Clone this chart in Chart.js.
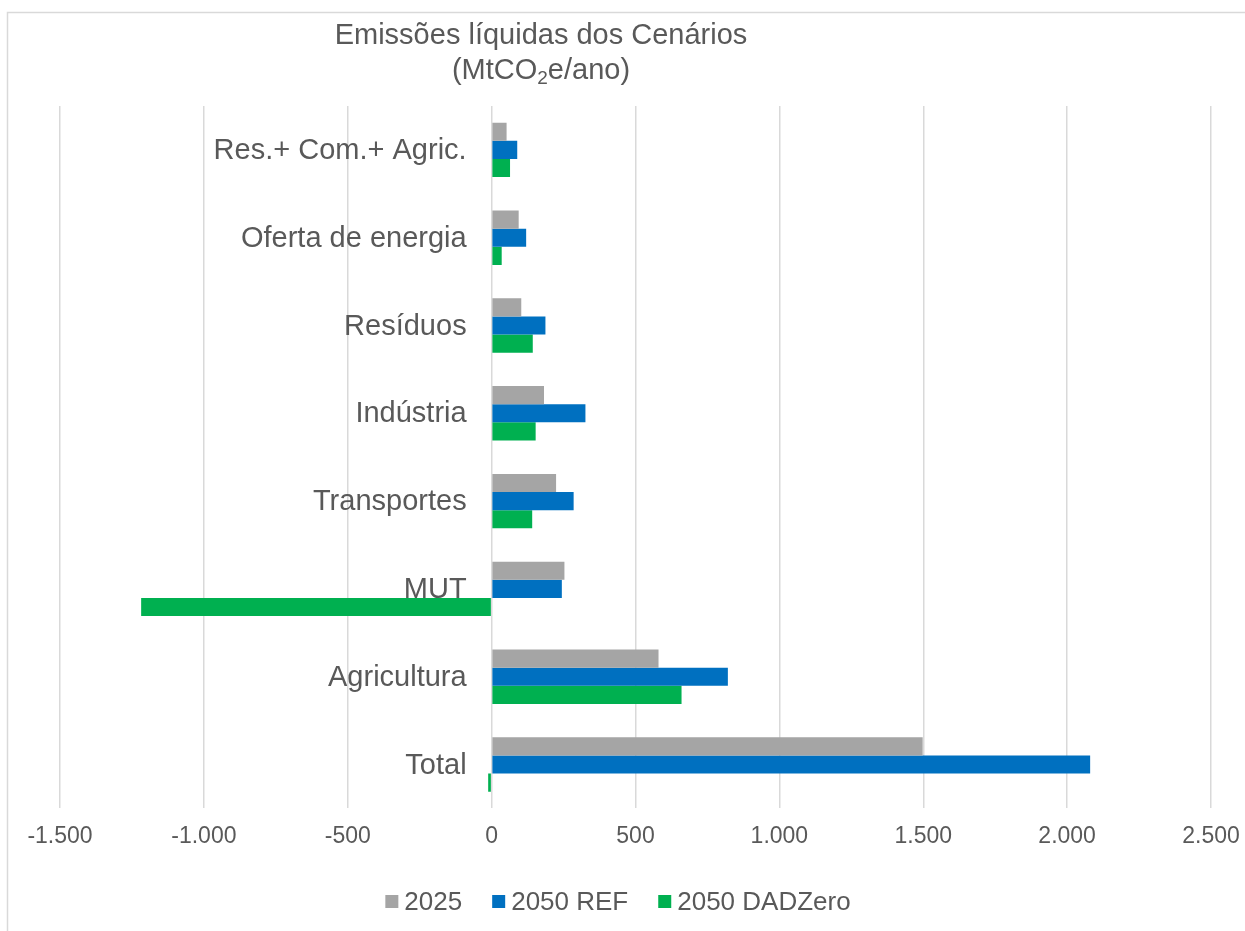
<!DOCTYPE html>
<html>
<head>
<meta charset="utf-8">
<title>Emissões líquidas dos Cenários</title>
<script src="https://cdn.jsdelivr.net/npm/chart.js@4.4.1/dist/chart.umd.min.js"></script>
<style>
    html, body { margin: 0; padding: 0; background: #fff; }
    #wrap { width: 1245px; height: 931px; }
</style>
</head>
<body>
<div id="wrap"><canvas id="emissoes"></canvas></div>
<script>
    // Dados (MtCO2e/ano)
    var categorias = ["Res.+ Com.+ Agric.", "Oferta de energia", "Resíduos", "Indústria", "Transportes", "MUT", "Agricultura", "Total"];
    var serie2025 = [52, 94, 103, 182, 224, 253, 580, 1498];
    var serieRef = [89, 120, 187, 326, 285, 244, 821, 2080];
    var serieDad = [64, 35, 143, 153, 141, -1218, 660, -12];
    var nomesSeries = ["2025", "2050 REF", "2050 DADZero"];
    var xMin = -1500, xMax = 2500, xPasso = 500;

    var cinzaTexto = "#595959";
    var fonte = "'Liberation Sans', Arial, sans-serif";

    function formataMilhar(v) {
        var s = Math.abs(v).toString().replace(/\B(?=(\d{3})+(?!\d))/g, ".");
        return (v < 0 ? "-" : "") + s;
    }

    // Moldura, título, rótulos das categorias junto ao zero e legenda
    var extras = {
        id: "extras",
        beforeDraw: function (chart) {
            var ctx = chart.ctx;
            ctx.save();
            ctx.fillStyle = "#fff";
            ctx.fillRect(0, 0, chart.width, chart.height);
            ctx.strokeStyle = "#d9d9d9";
            ctx.lineWidth = 1.5;
            ctx.beginPath();
            ctx.moveTo(7.5, chart.height);
            ctx.lineTo(7.5, 12.5);
            ctx.lineTo(chart.width, 12.5);
            ctx.stroke();
            ctx.restore();
        },
        afterDraw: function (chart) {
            var ctx = chart.ctx;
            var x = chart.scales.x, y = chart.scales.y;
            ctx.save();
            ctx.fillStyle = cinzaTexto;
            ctx.textBaseline = "middle";
            ctx.font = "29px " + fonte;
            ctx.textAlign = "center";
            ctx.fillText("Emissões líquidas dos Cenários", 541, 36);

            // segunda linha com o 2 subscrito
            var a = "(MtCO", b = "2", c = "e/ano)";
            ctx.font = "29px " + fonte;
            var wa = ctx.measureText(a).width, wc = ctx.measureText(c).width;
            ctx.font = "19px " + fonte;
            var wb = ctx.measureText(b).width;
            var x1 = 541 - (wa + wb + wc) / 2;
            ctx.textAlign = "left";
            ctx.font = "29px " + fonte;
            ctx.fillText(a, x1, 71);
            ctx.font = "19px " + fonte;
            ctx.fillText(b, x1 + wa, 79);
            ctx.font = "29px " + fonte;
            ctx.fillText(c, x1 + wa + wb, 71);

            // categorias
            ctx.textAlign = "right";
            var x0 = x.getPixelForValue(0) - 25;
            categorias.forEach(function (cat, i) {
                ctx.fillText(cat, x0, y.getPixelForValue(i) + 1);
            });

            // legenda
            ctx.font = "26px " + fonte;
            ctx.textAlign = "left";
            var itens = chart.data.datasets.map(function (ds) {
                return { nome: ds.label, cor: ds.backgroundColor, w: 13 + 6 + ctx.measureText(ds.label).width };
            });
            var total = itens.reduce(function (s, it) { return s + it.w; }, 0) + 30 * (itens.length - 1);
            var lx = 618 - total / 2, ly = 902;
            itens.forEach(function (it) {
                ctx.fillStyle = it.cor;
                ctx.fillRect(lx, ly - 7, 13, 13);
                ctx.fillStyle = cinzaTexto;
                ctx.fillText(it.nome, lx + 19, ly + 1);
                lx += it.w + 30;
            });
            ctx.restore();
        }
    };

    var ctx1 = document.getElementById("emissoes").getContext("2d");
    var grafico = new Chart(ctx1, {
        type: "bar",
        data: {
            labels: categorias,
            datasets: [{
                    label: nomesSeries[0],
                    data: serie2025,
                    backgroundColor: "#a5a5a5"
                },
                {
                    label: nomesSeries[1],
                    data: serieRef,
                    backgroundColor: "#0070c0"
                },
                {
                    label: nomesSeries[2],
                    data: serieDad,
                    backgroundColor: "#00b050"
                }
            ]
        },
        options: {
            indexAxis: "y",
            responsive: true,
            maintainAspectRatio: false,
            animation: false,
            datasets: {
                bar: { categoryPercentage: 0.62, barPercentage: 1.0 }
            },
            layout: {
                padding: { left: 60, right: 34, top: 106, bottom: 67 }
            },
            scales: {
                x: {
                    min: xMin,
                    max: xMax,
                    afterFit: function (scale) {
                        scale.paddingLeft = 0;
                        scale.paddingRight = 0;
                    },
                    ticks: {
                        stepSize: xPasso,
                        color: cinzaTexto,
                        padding: 14,
                        font: { family: fonte, size: 23 },
                        callback: function (v) { return formataMilhar(v); }
                    },
                    grid: { color: "#d9d9d9", lineWidth: 1.5, drawTicks: false },
                    border: { display: false }
                },
                y: {
                    display: false,
                    grid: { display: false }
                }
            },
            plugins: {
                legend: { display: false },
                title: { display: false },
                tooltip: { enabled: false }
            }
        },
        plugins: [extras]
    });
</script>
</body>
</html>
